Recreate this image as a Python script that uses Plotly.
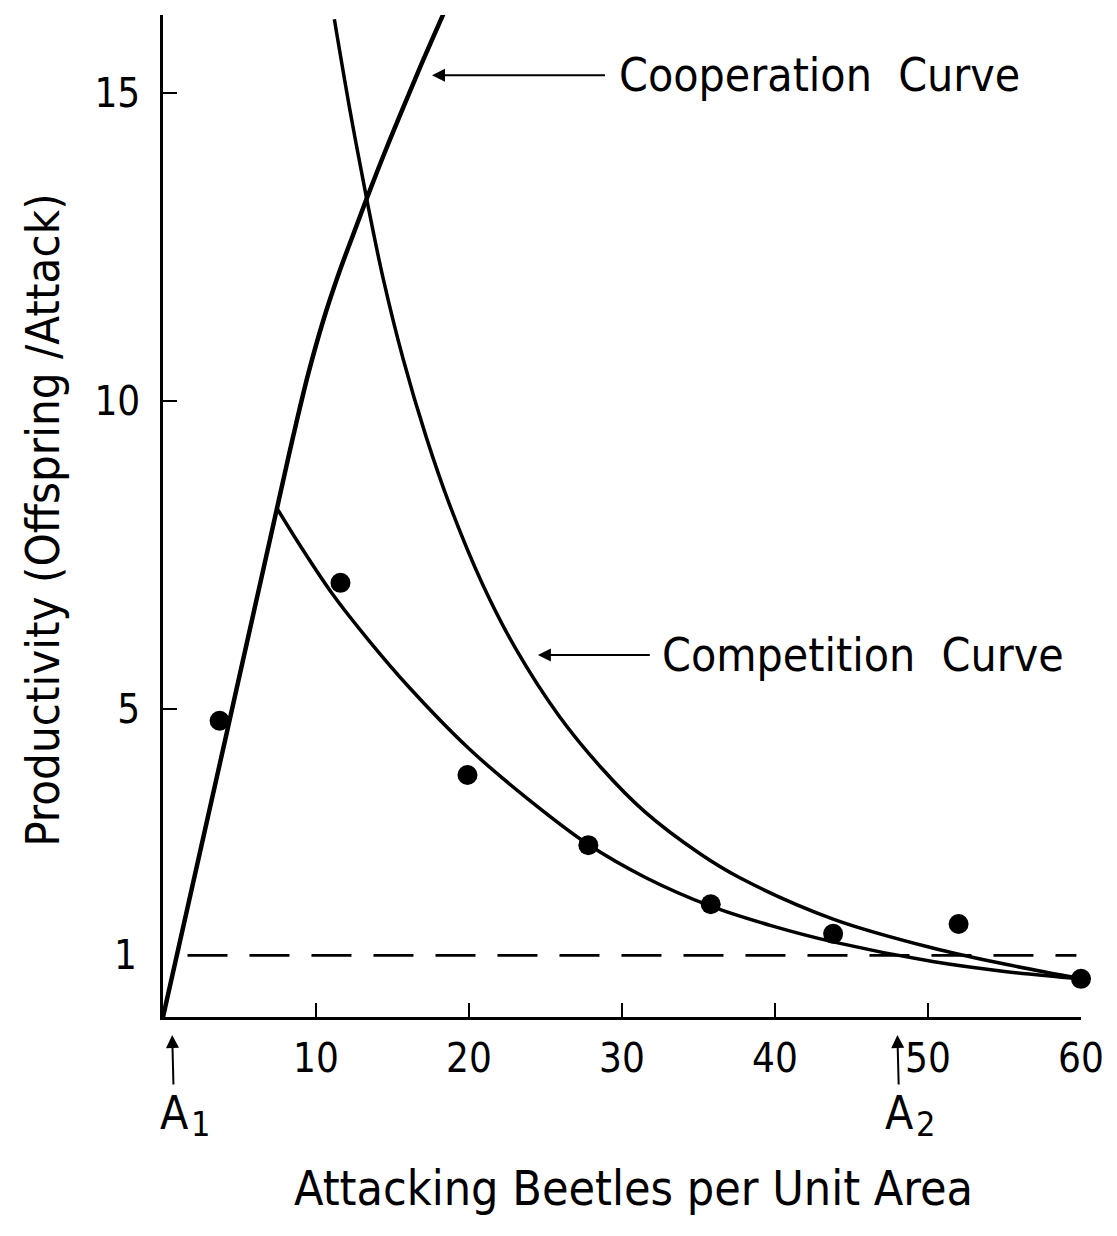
import plotly.graph_objects as go

# Observed data points (attacking beetles, productivity)
pts_x = [3.7, 11.6, 19.9, 27.8, 35.8, 43.8, 52.0, 60.0]
pts_y = [4.81, 7.05, 3.93, 2.79, 1.83, 1.35, 1.51, 0.62]

# Cooperation curve
coop_x = [0, 4.0, 7.45, 8.5, 9.5, 10.5, 11.5, 12.5, 13.3, 14.4, 15.5, 16.8, 18.35]
coop_y = [0, 4.43, 8.26, 9.42, 10.45, 11.33, 12.08, 12.75, 13.28, 13.98, 14.65, 15.42, 16.3]

# Upper competition curve
compU_x = [11.2, 12.2, 13.3, 14.4, 15.7, 17.2, 18.76, 20.9, 23.1, 25.85, 28.6, 31.5, 35.1, 37.7, 43.8, 50.3, 55.0, 60]
compU_y = [16.2, 14.75, 13.3, 11.98, 10.68, 9.42, 8.30, 7.02, 5.96, 4.90, 4.06, 3.33, 2.65, 2.26, 1.59, 1.12, 0.86, 0.62]

# Lower competition curve
compL_x = [7.45, 8.95, 11.1, 13.5, 16.1, 19.9, 23.8, 27.8, 31.5, 35.8, 39.8, 43.8, 50.3, 55.0, 60]
compL_y = [8.26, 7.66, 6.86, 6.1, 5.35, 4.38, 3.55, 2.8, 2.27, 1.8, 1.48, 1.22, 0.9, 0.74, 0.62]

# Replacement threshold line
thr_x = [1.6, 59.7]
thr_y = [1, 1]

x_ticks = [10, 20, 30, 40, 50, 60]
y_ticks = [5, 10, 15]

A1_x = 0.6
A2_x = 48.0

FONT = "DejaVu Sans Condensed, DejaVu Sans, sans-serif"

fig = go.Figure()
fig.add_trace(go.Scatter(x=thr_x, y=thr_y, mode="lines",
                         line=dict(color="black", width=2.8, dash="40px,22px"),
                         hoverinfo="skip"))
fig.add_trace(go.Scatter(x=coop_x, y=coop_y, mode="lines",
                         line=dict(color="black", width=4.5, shape="spline", smoothing=1.0),
                         cliponaxis=False))
fig.add_trace(go.Scatter(x=compU_x, y=compU_y, mode="lines",
                         line=dict(color="black", width=3.5, shape="spline", smoothing=1.0),
                         cliponaxis=False))
fig.add_trace(go.Scatter(x=compL_x, y=compL_y, mode="lines",
                         line=dict(color="black", width=3.5, shape="spline", smoothing=1.0),
                         cliponaxis=False))
fig.add_trace(go.Scatter(x=pts_x, y=pts_y, mode="markers",
                         marker=dict(color="black", size=20),
                         cliponaxis=False))

annotations = []
# y tick label "1"
annotations.append(dict(x=0, y=1, xref="x", yref="y", text="1", showarrow=False,
                        xanchor="right", yanchor="middle", xshift=-24,
                        font=dict(size=40, family=FONT, color="black")))
# Cooperation Curve label with arrow
annotations.append(dict(x=17.58, y=15.29, xref="x", yref="y", text="Cooperation  Curve",
                        showarrow=True, ax=185, ay=0, xanchor="left", yanchor="middle",
                        startstandoff=12, arrowhead=2, arrowsize=1.3, arrowwidth=2,
                        arrowcolor="black", font=dict(size=46, family=FONT, color="black")))
# Competition Curve label with arrow
annotations.append(dict(x=24.5, y=5.88, xref="x", yref="y", text="Competition  Curve",
                        showarrow=True, ax=122, ay=0, xanchor="left", yanchor="middle",
                        startstandoff=10, arrowhead=2, arrowsize=1.3, arrowwidth=2,
                        arrowcolor="black", font=dict(size=46, family=FONT, color="black")))
# A1 / A2 labels with upward arrows (letter + separate subscript)
for ax_x, sub in [(A1_x, "1"), (A2_x, "2")]:
    annotations.append(dict(x=ax_x, y=-0.018, xref="x", yref="paper", text="A", showarrow=True,
                            ax=2, ay=78, xanchor="center", yanchor="middle",
                            arrowhead=2, arrowsize=1.3, arrowwidth=2, arrowcolor="black",
                            font=dict(size=46, family=FONT, color="black")))
    annotations.append(dict(x=ax_x, y=-0.107, xref="x", yref="paper", text=sub, showarrow=False,
                            xanchor="left", yanchor="middle", xshift=17,
                            font=dict(size=34, family=FONT, color="black")))
# Axis titles
annotations.append(dict(x=0.513, y=-0.1707, xref="paper", yref="paper",
                        xanchor="center", yanchor="middle",
                        text="Attacking Beetles per Unit Area", showarrow=False,
                        font=dict(size=48, family=FONT, color="black")))
annotations.append(dict(x=-0.132, y=0.496, xref="paper", yref="paper",
                        xanchor="center", yanchor="middle",
                        text="Productivity (Offspring /Attack)", showarrow=False, textangle=-90,
                        font=dict(size=47, family=FONT, color="black")))

fig.update_layout(
    width=1117, height=1236,
    margin=dict(l=155, r=44, t=7, b=227),
    plot_bgcolor="white", paper_bgcolor="white",
    showlegend=False,
    annotations=annotations,
    font=dict(family=FONT, color="black"),
)
fig.update_xaxes(range=[0, 60], tickvals=x_ticks, ticks="inside", ticklen=14, tickwidth=2,
                 tickcolor="black", showline=True, linecolor="black", linewidth=2.5,
                 showgrid=False, zeroline=False, tickfont=dict(size=40, family=FONT, color="black"),
                 ticklabelstandoff=4)
fig.update_yaxes(range=[0, 16.27], tickvals=y_ticks, ticks="inside", ticklen=14, tickwidth=2,
                 tickcolor="black", showline=True, linecolor="black", linewidth=2.5,
                 showgrid=False, zeroline=False, tickfont=dict(size=40, family=FONT, color="black"),
                 ticklabelstandoff=12)

fig.write_html("out.html")
